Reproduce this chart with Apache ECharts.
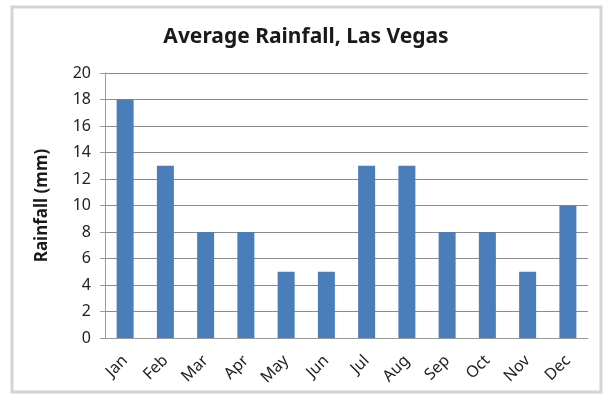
<!DOCTYPE html>
<html><head><meta charset="utf-8">
<script src="https://cdn.jsdelivr.net/npm/echarts@6/dist/echarts.min.js"></script>
<style>html,body{margin:0;padding:0;background:#fff}#c{width:612px;height:406px}</style>
</head><body><div id="c"></div>
<script>
const categories = ['Jan','Feb','Mar','Apr','May','Jun','Jul','Aug','Sep','Oct','Nov','Dec'];
const rainfall = [18,13,8,8,5,5,13,13,8,8,5,10];
const titleText = 'Average Rainfall, Las Vegas';
const yAxisName = 'Rainfall (mm)';

const chart = echarts.init(document.getElementById('c'), null, {renderer:'canvas'});
chart.setOption({
  backgroundColor:'#fff',
  animation:false,
  graphic:[{type:'rect',shape:{x:12,y:7,width:589,height:385},style:{fill:'none',stroke:'#d4d4d4',lineWidth:3},silent:true}],
  title:{text:titleText,left:'center',top:22,textStyle:{fontFamily:'Noto Sans',fontWeight:'bold',fontSize:21,color:'#1a1a1a'}},
  grid:{left:105,right:24,top:73,bottom:68,containLabel:false},
  xAxis:{type:'category',data:categories,
    axisLine:{lineStyle:{color:'#9a9a9a',width:1}},
    axisTick:{show:false},
    axisLabel:{rotate:45,fontFamily:'Noto Sans',fontSize:16,color:'#222',margin:20}},
  yAxis:{type:'value',min:0,max:20,interval:2,name:yAxisName,nameLocation:'middle',nameGap:54,
    nameTextStyle:{fontFamily:'Noto Sans',fontWeight:'bold',fontSize:17,color:'#1a1a1a'},
    axisLine:{show:true,lineStyle:{color:'#9a9a9a'}},
    axisTick:{show:true,length:5,lineStyle:{color:'#9a9a9a'}},
    axisLabel:{fontFamily:'Noto Sans',fontSize:16,color:'#222',margin:14},
    splitLine:{lineStyle:{color:'#8c8c8c',width:1}}},
  series:[{type:'bar',data:rainfall,barWidth:17,itemStyle:{color:'#4a7ebb'}}]
});
</script></body></html>
